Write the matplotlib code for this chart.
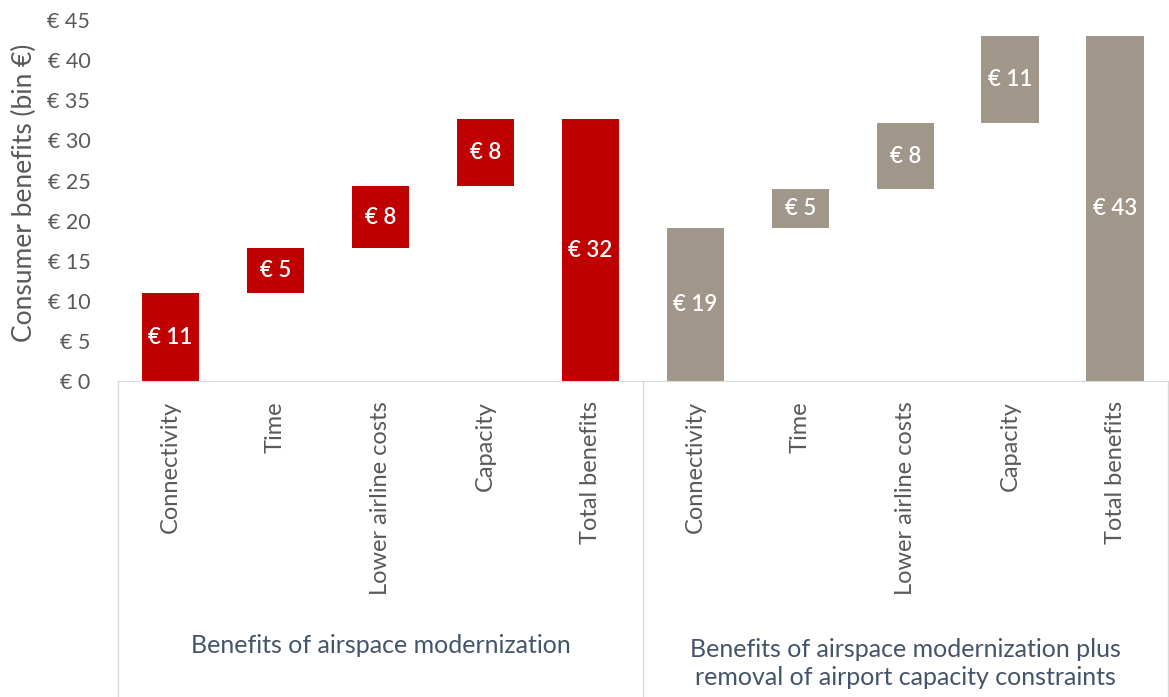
import matplotlib
matplotlib.use("Agg")
import matplotlib.pyplot as plt
import matplotlib.transforms as mtransforms

# data
categories = ["Connectivity", "Time", "Lower airline costs", "Capacity", "Total benefits"]
modern_steps = [11.0, 5.6, 7.7, 8.4]
modern_labels = ["€ 11", "€ 5", "€ 8", "€ 8", "€ 32"]
removal_steps = [19.1, 4.8, 8.3, 10.8]
removal_labels = ["€ 19", "€ 5", "€ 8", "€ 11", "€ 43"]
group_names = ["Benefits of airspace modernization",
               "Benefits of airspace modernization plus\nremoval of airport capacity constraints"]
y_ticks = [0, 5, 10, 15, 20, 25, 30, 35, 40, 45]

red = "#c00000"
taupe = "#a0978a"
txt = "#595959"

plt.rcParams['font.family'] = ['Lato', 'DejaVu Sans']


def waterfall(steps):
    bottoms, heights = [], []
    run = 0
    for s in steps:
        bottoms.append(run)
        heights.append(s)
        run += s
    bottoms.append(0)
    heights.append(run)
    return bottoms, heights


fig = plt.figure(figsize=(11.69, 6.97), dpi=100)
ax = fig.add_axes([0.101, 0.4527, 0.898, 0.5186])

b1, h1 = waterfall(modern_steps)
b2, h2 = waterfall(removal_steps)
x1 = list(range(5))
x2 = list(range(5, 10))
ax.bar(x1, h1, bottom=b1, width=0.55, color=red)
ax.bar(x2, h2, bottom=b2, width=0.55, color=taupe)

for xs, bs, hs, labs in [(x1, b1, h1, modern_labels), (x2, b2, h2, removal_labels)]:
    for x, b, h, lab in zip(xs, bs, hs, labs):
        ax.text(x, b + h / 2, lab, ha="center", va="center", color="white",
                fontsize=16, fontweight="semibold")

ax.set_xlim(-0.5, 9.5)
ax.set_ylim(0, 45)
ax.set_yticks(y_ticks)
ax.set_yticklabels([f"€ {v}" for v in y_ticks], color=txt, fontsize=15.5)
ax.set_xticks(x1 + x2)
ax.set_xticklabels(categories + categories, rotation=90, color=txt, fontsize=17, va="top")
ax.tick_params(axis="both", length=0)
ax.tick_params(axis="x", pad=14)
ax.tick_params(axis="y", pad=20)

for side in ["top", "right", "left"]:
    ax.spines[side].set_visible(False)
ax.spines["bottom"].set_color("#d9d9d9")

# group boxes under the axis
trans = mtransforms.blended_transform_factory(ax.transData, fig.transFigure)
for xv in [-0.5, 4.5, 9.5]:
    ax.plot([xv, xv], [0.4527, 0.0], color="#d9d9d9", lw=1, transform=trans, clip_on=False)

ax.text(2.0, 0.074, group_names[0], transform=trans, ha="center", va="center",
        color="#44546a", fontsize=18)
ax.text(7.0, 0.048, group_names[1], transform=trans, ha="center", va="center",
        color="#44546a", fontsize=18, linespacing=1.3)

fig.text(0.021, 0.723, "Consumer benefits (bin €)", rotation=90, ha="center", va="center",
         color=txt, fontsize=19)

fig.savefig("out.png", dpi=100)
